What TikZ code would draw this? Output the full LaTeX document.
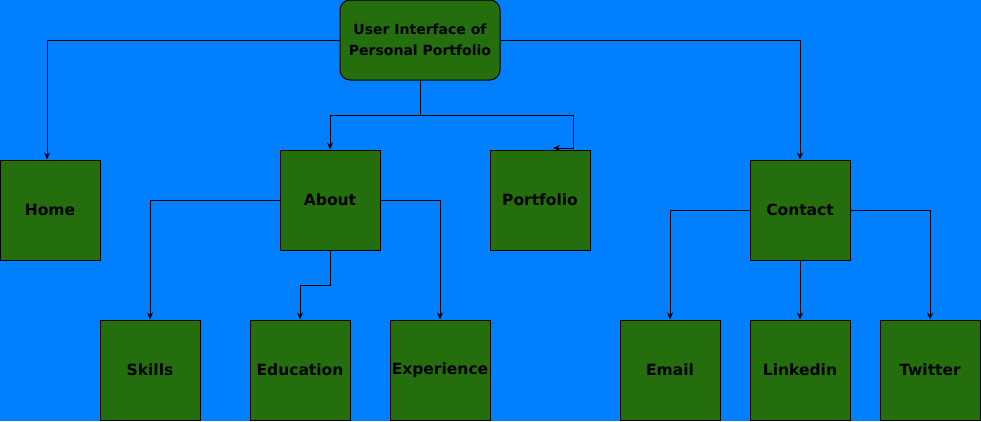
\documentclass[tikz,border=0pt]{standalone}
\usepackage{fontspec}
\setmainfont{DejaVu Sans}
\usepackage{tikz}
\usetikzlibrary{positioning, calc, arrows.meta}

\definecolor{bgblue}{RGB}{0,127,255}
\definecolor{boxgreen}{RGB}{36,110,14}

\tikzset{
    page box/.style={draw=black, fill=boxgreen, line width=1pt, minimum width=100pt,
        minimum height=100pt, inner sep=0pt, font=\bfseries\fontsize{15.5}{18}\selectfont},
    root box/.style={page box, rounded corners=10pt, minimum width=160pt, minimum height=80pt,
        align=center, font=\bfseries\fontsize{14}{21}\selectfont},
    link/.style={draw=black, line width=1pt, -{Stealth[length=7pt,width=6pt]}}
}

\begin{document}
\begin{tikzpicture}[x=1pt, y=-1pt]
        \useasboundingbox (0,0) rectangle (981,421);
        \fill[bgblue] (0,0) rectangle (981,421);

        % top level
        \node[root box] (ui) at (420,40) {User Interface of\\Personal Portfolio};
        \node[page box] (home) at (50,210) {Home};
        \node[page box] (about) at (330,200) {About};
        \node[page box] (portfolio) at (540,200) {Portfolio};
        \node[page box] (contact) at (800,210) {Contact};

        % second level
        \node[page box] (skills) at (150,370) {Skills};
        \node[page box] (education) at (300,370) {Education};
        \node[page box] (experience) at (440,370) {Experience};
        \node[page box] (email) at (670,370) {Email};
        \node[page box] (linkedin) at (800,370) {Linkedin};
        \node[page box] (twitter) at (930,370) {Twitter};

        \coordinate (uibend) at (420,115);
        \coordinate (pfbend) at (573,148);
        \coordinate (pftip) at (553,148);
        \coordinate (edbend) at (330,285);

        \draw[link] (ui.west) -| ([xshift=-3pt]home.north);
        \draw[link] (ui.east) -| (contact.north);
        \draw[link] (ui.south) -- (uibend) -| (about.north);
        \draw[link] (uibend) -| (pfbend) -- (pftip);

        \draw[link] (about.west) -| (skills.north);
        \draw[link] (about.south) -- (edbend) -| (education.north);
        \draw[link] (about.east) -| (experience.north);

        \draw[link] (contact.west) -| (email.north);
        \draw[link] (contact.south) -- (linkedin.north);
        \draw[link] (contact.east) -| (twitter.north);
    \end{tikzpicture}
\end{document}
